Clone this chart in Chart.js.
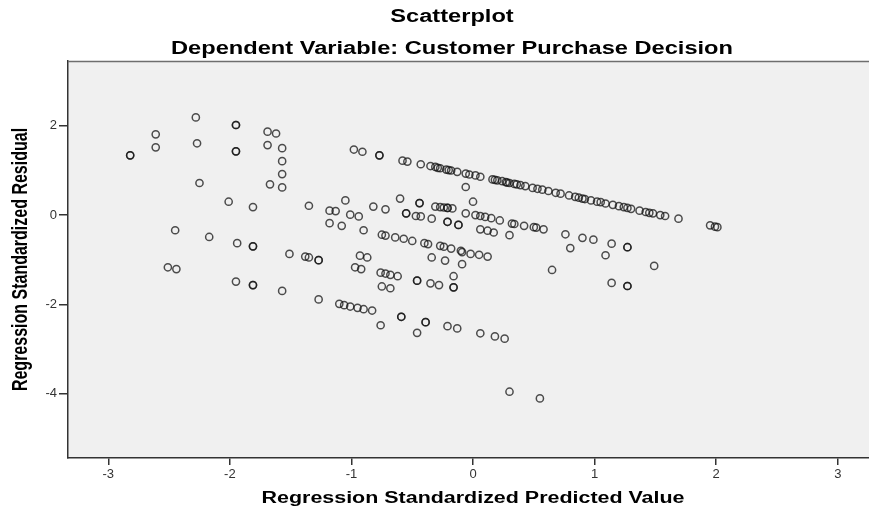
<!DOCTYPE html>
<html>
<head>
<meta charset="utf-8">
<script src="https://cdn.jsdelivr.net/npm/chart.js@4.4.1/dist/chart.umd.min.js"></script>
<style>
html,body{margin:0;padding:0;background:#fff;overflow:hidden;}
#wrap{width:869px;height:508px;position:relative;}
</style>
</head>
<body>
<div id="wrap"><canvas id="c" width="869" height="508"></canvas></div>
<script>
// ---- Data ----
const chartTitle = "Scatterplot";
const chartSubtitle = "Dependent Variable: Customer Purchase Decision";
const xAxisTitle = "Regression Standardized Predicted Value";
const yAxisTitle = "Regression Standardized Residual";
const xTicks = [-3, -2, -1, 0, 1, 2, 3];
const yTicks = [-4, -2, 0, 2];

// Standardized predicted values
const predicted = [
  -2.82,-2.82,-2.61,-2.61,-2.28,-2.27,-1.95,-1.95,-1.95,-1.95,-1.69,-1.62,-1.69,-1.57,-1.57,-1.57,
  -2.25,-1.67,-1.57,-2.01,-1.81,-1.35,-1.05,-1.18,-1.13,-1.18,-1.08,-2.45,-2.17,-1.94,-1.81,-1.81,
  -1.51,-1.38,-1.35,-1.27,-1.27,-2.51,-2.44,-1.95,-1.81,-1.81,-1.57,-1.27,
  -0.98,-0.91,-0.77,-0.77,-0.58,-0.54,-0.43,
  -0.35,-0.31,-0.27,-0.22,-0.18,-0.13,-0.06,-0.03,0.02,0.06,0.16,0.20,0.24,0.27,0.30,0.34,0.39,0.43,
  0.49,0.53,0.57,0.62,0.68,0.72,0.79,0.84,0.87,0.90,0.97,1.02,1.09,1.15,1.20,1.27,1.30,1.37,1.42,
  1.48,1.54,1.58,1.69,1.95,1.99,2.01,
  -0.29,-0.20,0.18,0.28,0.36,0.92,1.05,1.24,1.45,
  -0.06,-0.60,-0.44,-0.44,0.00,-0.82,-0.72,-0.31,-0.27,-0.24,-0.21,-0.21,-0.17,-1.01,-0.94,-0.55,-0.55,
  -0.47,-0.43,-0.34,-0.06,0.02,0.06,0.10,0.15,0.22,0.32,0.34,0.42,0.50,0.52,0.58,0.76,0.80,0.65,
  -0.90,-0.21,-0.21,-0.12,-0.12,0.06,0.12,0.17,0.30,-0.75,-0.72,-0.64,-0.57,-0.50,-0.40,-0.37,
  -0.27,-0.24,-0.18,-0.10,-0.09,-0.02,0.05,0.12,-0.93,-0.87,-0.34,-0.23,-0.09,-0.97,-0.92,
  -0.76,-0.72,-0.68,-0.62,-0.46,-0.46,-0.35,-0.28,-0.16,-0.16,-0.16,-0.75,-0.68,
  -1.10,-1.06,-1.01,-0.95,-0.90,-0.83,-0.76,-0.59,-0.59,-0.39,-0.39,-0.46,-0.21,-0.13,0.06,0.18,0.26,
  0.30,0.55,
  0.90,0.99,1.14,1.27,1.27,1.09,1.49,1.14,1.27,1.27
];
// Standardized residuals
const residual = [
  1.34,1.34,1.81,1.52,2.19,1.61,2.02,2.02,1.43,1.43,1.87,1.83,1.57,1.50,1.21,0.92,
  0.72,0.69,0.62,0.30,0.18,0.21,0.33,0.10,0.09,-0.18,-0.24,-0.34,-0.49,-0.63,-0.70,-0.70,
  -0.87,-0.93,-0.95,-1.01,-1.01,-1.17,-1.21,-1.49,-1.57,-1.57,-1.70,-1.89,
  1.47,1.42,1.34,1.34,1.22,1.20,1.14,
  1.10,1.08,1.05,1.02,1.00,0.97,0.93,0.91,0.89,0.86,0.80,0.78,0.76,0.74,0.72,0.70,0.67,0.65,
  0.61,0.59,0.57,0.54,0.50,0.48,0.44,0.41,0.39,0.37,0.33,0.30,0.26,0.23,0.20,0.16,0.14,0.10,0.07,
  0.04,0.00,-0.02,-0.08,-0.23,-0.26,-0.27,
  1.06,1.01,0.79,0.73,0.69,0.36,0.29,0.18,0.05,
  0.63,0.37,0.27,0.27,0.30,0.19,0.13,0.19,0.18,0.17,0.16,0.16,0.15,0.01,-0.03,0.04,0.04,
  -0.02,-0.03,-0.08,0.04,0.00,-0.02,-0.04,-0.07,-0.12,-0.19,-0.20,-0.24,-0.27,-0.28,-0.32,-0.43,-0.74,-1.23,
  -0.34,-0.15,-0.15,-0.22,-0.22,-0.32,-0.35,-0.39,-0.45,-0.44,-0.46,-0.50,-0.53,-0.58,-0.63,-0.65,
  -0.69,-0.71,-0.75,-0.80,-0.83,-0.87,-0.89,-0.93,-0.91,-0.95,-0.95,-1.02,-1.10,-1.17,-1.21,
  -1.29,-1.31,-1.34,-1.37,-1.47,-1.47,-1.53,-1.57,-1.37,-1.62,-1.62,-1.60,-1.64,
  -1.99,-2.02,-2.05,-2.08,-2.11,-2.14,-2.47,-2.28,-2.28,-2.40,-2.40,-2.64,-2.49,-2.54,-2.65,-2.72,-2.77,
  -3.96,-4.11,
  -0.51,-0.55,-0.64,-0.72,-0.72,-0.90,-1.14,-1.52,-1.59,-1.59
];

const points = predicted.map((x, i) => ({ x: x, y: residual[i] }));

const TITLE_FONT = 'bold 17.5px "Liberation Sans", Arial, sans-serif';
const AXIS_TITLE_FONT = 'bold 16px "Liberation Sans", Arial, sans-serif';

const decorPlugin = {
  id: 'decor',
  beforeDraw(chart) {
    const ctx = chart.ctx, a = chart.chartArea;
    ctx.save();
    ctx.fillStyle = '#ffffff';
    ctx.fillRect(0, 0, chart.width, chart.height);
    ctx.fillStyle = '#f0f0f0';
    ctx.fillRect(a.left, a.top, a.right - a.left, a.bottom - a.top);
    ctx.restore();
  },
  afterDraw(chart) {
    const ctx = chart.ctx, a = chart.chartArea;
    ctx.save();
    ctx.strokeStyle = '#6e6e6e';
    ctx.lineWidth = 1.5;
    ctx.beginPath();
    ctx.moveTo(a.left, a.top + 0.5);
    ctx.lineTo(a.right, a.top + 0.5);
    ctx.stroke();

    ctx.fillStyle = '#000';
    ctx.font = TITLE_FONT;
    ctx.textAlign = 'center';
    ctx.textBaseline = 'alphabetic';
    ctx.save();
    ctx.translate(452, 22);
    ctx.scale(1.35, 1);
    ctx.fillText(chartTitle, 0, 0);
    ctx.restore();
    ctx.save();
    ctx.translate(452, 53.5);
    ctx.scale(1.35, 1);
    ctx.fillText(chartSubtitle, 0, 0);
    ctx.restore();

    ctx.font = AXIS_TITLE_FONT;
    const xs = chart.scales.x;
    ctx.save();
    ctx.translate(xs.getPixelForValue(0), 503);
    ctx.scale(1.34, 1);
    ctx.fillText(xAxisTitle, 0, 0);
    ctx.restore();

    ctx.save();
    ctx.translate(26.5, (a.top + a.bottom) / 2);
    ctx.rotate(-Math.PI / 2);
    ctx.scale(1, 1.34);
    ctx.fillText(yAxisTitle, 0, 0);
    ctx.restore();
    ctx.restore();
  }
};

new Chart(document.getElementById('c'), {
  type: 'scatter',
  data: {
    datasets: [{
      data: points,
      pointStyle: 'circle',
      pointRadius: 3.6,
      pointHoverRadius: 3.6,
      pointBorderWidth: 1.5,
      borderColor: 'rgba(20,20,20,0.75)',
      backgroundColor: 'rgba(0,0,0,0)',
      showLine: false
    }]
  },
  options: {
    responsive: false,
    animation: false,
    devicePixelRatio: 1,
    layout: { autoPadding: false, padding: { top: 61, left: 0, right: 0, bottom: 0 } },
    plugins: {
      legend: { display: false },
      title: { display: false },
      tooltip: { enabled: false }
    },
    scales: {
      x: {
        type: 'linear',
        min: -3.3315,
        max: 3.257,
        afterBuildTicks(s) { s.ticks = xTicks.map(v => ({ value: v })); },
        afterFit(s) { s.height = 50; s.paddingLeft = 0; s.paddingRight = 0; },
        ticks: {
          autoSkip: false, maxRotation: 0, minRotation: 0,
          padding: 2,
          color: '#333',
          font: { family: '"Liberation Sans", Arial, sans-serif', size: 13 },
          callback: v => String(v)
        },
        grid: { drawOnChartArea: false, drawTicks: true, tickLength: 7, color: '#333', lineWidth: 1.5 },
        border: { display: true, color: '#333', width: 1.5 }
      },
      y: {
        type: 'linear',
        min: -5.446,
        max: 3.455,
        afterBuildTicks(s) { s.ticks = yTicks.map(v => ({ value: v })); },
        afterFit(s) { s.width = 68; s.paddingTop = 0; s.paddingBottom = 0; },
        ticks: {
          autoSkip: false,
          padding: 2,
          color: '#333',
          font: { family: '"Liberation Sans", Arial, sans-serif', size: 13 },
          callback: v => String(v)
        },
        grid: { drawOnChartArea: false, drawTicks: true, tickLength: 9, color: '#333', lineWidth: 1.5 },
        border: { display: true, color: '#333', width: 1.5 }
      }
    }
  },
  plugins: [decorPlugin]
});
</script>
</body>
</html>
